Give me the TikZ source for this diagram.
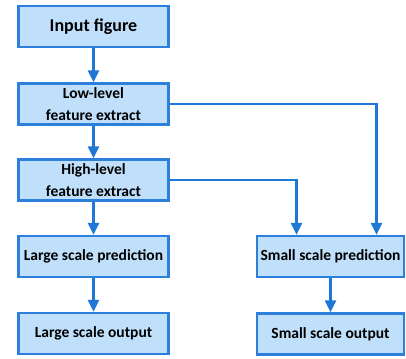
\documentclass[tikz,border=0pt]{standalone}
\usepackage{fontspec}
\setmainfont{Carlito}
\usetikzlibrary{arrows.meta}
\definecolor{boxfill}{RGB}{191,223,250}
\definecolor{boxline}{RGB}{44,128,220}
\definecolor{flow}{RGB}{32,120,214}
\tikzset{
  stage/.style={draw=boxline, fill=boxfill, line width=2.4pt,
    minimum width=150pt, minimum height=41pt, inner sep=0pt,
    font=\bfseries\fontsize{15.5}{22}\selectfont, align=center, text=black},
  flowline/.style={draw=flow, line width=2.4pt,
    -{Triangle[length=12pt,width=11pt]}}
}
\begin{document}
\begin{tikzpicture}[x=1pt,y=-1pt]
  \useasboundingbox (0,0) rectangle (406,358);
  \node[stage, font=\bfseries\fontsize{18}{22}\selectfont] (input) at (93.5,26.5) {Input figure};
  \node[stage] (low) at (93.5,104) {Low-level\\feature extract};
  \node[stage] (high) at (93.5,180) {High-level\\feature extract};
  \node[stage] (lpred) at (93.5,256.5) {Large scale prediction};
  \node[stage] (lout) at (93.5,333.5) {Large scale output};
  \node[stage, minimum width=147pt] (spred) at (330.5,256.5) {Small scale prediction};
  \node[stage, minimum width=147pt] (sout) at (330.5,334) {Small scale output};

  \draw[flowline] (input) -- (low);
  \draw[flowline] (low) -- (high);
  \draw[flowline] (high) -- (lpred);
  \draw[flowline] (lpred) -- (lout);
  \draw[flowline] (spred) -- (sout);
  \draw[flowline] (low.east) -| ([xshift=46pt]spred.north);
  \draw[flowline] (high.east) -| ([xshift=-34pt]spred.north);
\end{tikzpicture}
\end{document}
